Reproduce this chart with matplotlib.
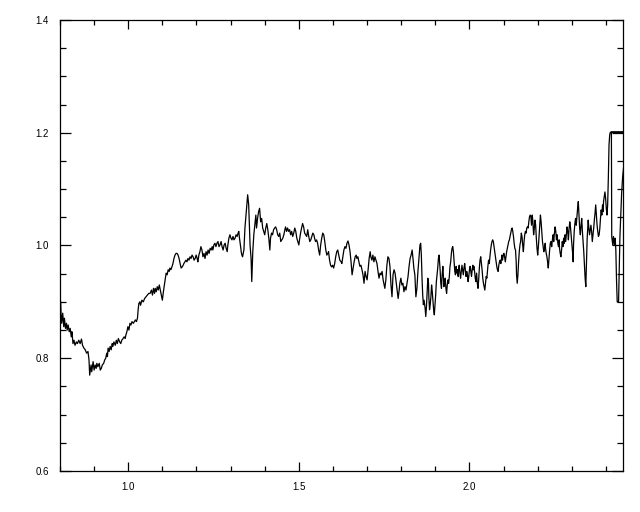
import matplotlib
matplotlib.use("Agg")
import matplotlib.pyplot as plt
from matplotlib.ticker import MultipleLocator, FormatStrFormatter

# Spectrum (wavelength, flux) in pieces
seg_a = [(0.800,0.905),(0.802,0.900),(0.803,0.880),(0.805,0.862),(0.808,0.880),(0.811,0.856),(0.813,0.871),
         (0.816,0.853),(0.819,0.862),(0.821,0.850),(0.824,0.859),(0.827,0.847),(0.830,0.853),(0.833,0.838),
         (0.835,0.847),(0.838,0.826),(0.841,0.832),(0.844,0.823),(0.848,0.829),(0.851,0.826),(0.855,0.832),
         (0.859,0.826),(0.863,0.834),(0.866,0.823),(0.870,0.818),(0.874,0.815),(0.878,0.809),(0.882,0.812),
         (0.885,0.797),(0.887,0.770),(0.889,0.779),(0.891,0.788),(0.893,0.776),(0.895,0.785),(0.897,0.794),
         (0.900,0.779),(0.903,0.788),(0.906,0.782),(0.908,0.791),(0.911,0.785),(0.915,0.791),(0.918,0.779),
         (0.921,0.782),(0.924,0.788),(0.928,0.791),(0.931,0.797),(0.934,0.800),(0.937,0.809),(0.939,0.803),
         (0.941,0.818),(0.944,0.812),(0.947,0.821),(0.950,0.815),(0.953,0.826),(0.955,0.821),(0.958,0.829),
         (0.962,0.823),(0.965,0.832),(0.968,0.826),(0.971,0.835),(0.975,0.829),(0.978,0.826),(0.981,0.832),
         (0.985,0.835),(0.988,0.838),(0.991,0.835),(0.993,0.841),(0.996,0.847),(0.999,0.856),(1.002,0.850),
         (1.005,0.862),(1.008,0.859),(1.011,0.865),(1.015,0.862),(1.018,0.865),(1.021,0.868),(1.024,0.865),
         (1.027,0.871),(1.029,0.886),(1.031,0.897),(1.034,0.900),(1.036,0.894),(1.040,0.903),(1.044,0.900),
         (1.048,0.906),(1.052,0.909),(1.056,0.912),(1.060,0.915)]

seg_b = [(1.064,0.915),(1.068,0.921),(1.071,0.912),(1.074,0.924),(1.077,0.915),(1.079,0.924),(1.082,0.918),
         (1.085,0.927),(1.088,0.921),(1.091,0.930),(1.094,0.921),(1.097,0.912),(1.100,0.903),(1.103,0.918),
         (1.106,0.930),(1.109,0.942),(1.111,0.951),(1.114,0.948),(1.117,0.957),(1.120,0.954),(1.122,0.960),
         (1.125,0.957),(1.128,0.962),(1.131,0.968),(1.134,0.977),(1.137,0.983),(1.140,0.986),(1.143,0.986),
         (1.146,0.983),(1.149,0.977),(1.152,0.968),(1.155,0.960),(1.158,0.962),(1.161,0.965),(1.163,0.968),
         (1.166,0.971),(1.169,0.974),(1.172,0.971),(1.175,0.977),(1.178,0.974),(1.181,0.980),(1.184,0.977),
         (1.187,0.983),(1.190,0.980),(1.193,0.974),(1.196,0.977),(1.199,0.983),(1.202,0.977),(1.204,0.971),
         (1.207,0.983),(1.210,0.989),(1.213,0.998),(1.216,0.992),(1.219,0.980),(1.222,0.986),(1.225,0.977),
         (1.228,0.989),(1.231,0.983),(1.234,0.992),(1.237,0.986),(1.240,0.995),(1.243,0.992),(1.246,0.998),
         (1.248,0.992),(1.251,1.001),(1.254,1.004),(1.257,0.998),(1.260,1.004),(1.263,1.007),(1.266,0.998),
         (1.269,1.001),(1.272,1.007),(1.275,0.998),(1.278,0.992),(1.281,1.001),(1.284,1.004),(1.287,0.995),
         (1.290,0.989),(1.292,1.001),(1.295,1.013),(1.298,1.019),(1.301,1.013),(1.304,1.010),(1.307,1.016),
         (1.310,1.010),(1.313,1.013),(1.316,1.019),(1.319,1.016),(1.322,1.022),(1.324,1.025),(1.326,1.013),
         (1.328,1.004),(1.330,0.995),(1.331,0.989),(1.333,0.983),(1.335,0.980),(1.337,0.986),(1.339,0.992)]

seg_c = [(1.342,1.031),(1.346,1.060),(1.350,1.090),(1.353,1.072),(1.357,1.001),(1.360,0.977),(1.362,0.936),
         (1.365,0.989),(1.368,1.019),(1.371,1.036),(1.374,1.054),(1.376,1.031),(1.379,1.048),(1.382,1.060),
         (1.385,1.066),(1.388,1.042),(1.391,1.048),(1.394,1.031),(1.397,1.025),(1.400,1.019),(1.403,1.031),
         (1.406,1.039),(1.409,1.028),(1.412,1.013),(1.415,0.992),(1.417,1.013),(1.420,1.022),(1.423,1.019),
         (1.426,1.028),(1.429,1.031),(1.432,1.033),(1.435,1.028),(1.438,1.019),(1.441,1.016),(1.444,1.022),
         (1.447,1.007),(1.450,1.010),(1.453,1.013),(1.456,1.019),(1.459,1.028),(1.461,1.033),(1.464,1.025),
         (1.467,1.031),(1.470,1.025),(1.473,1.028),(1.476,1.019),(1.479,1.025),(1.482,1.016),(1.485,1.022),
         (1.488,1.031),(1.491,1.025),(1.494,1.013),(1.497,1.007),(1.500,1.001),(1.502,1.010),(1.505,1.022),
         (1.508,1.031),(1.511,1.039),(1.514,1.033),(1.517,1.022),(1.520,1.019),(1.523,1.016),(1.526,1.028),
         (1.529,1.016),(1.532,1.007),(1.535,1.010),(1.538,1.016),(1.541,1.022),(1.544,1.019),(1.546,1.013),
         (1.549,1.007),(1.552,1.010),(1.555,1.004),(1.558,0.992),(1.561,0.983),(1.564,1.001),(1.567,1.013),
         (1.570,1.022),(1.573,1.019),(1.576,1.007),(1.579,0.992),(1.582,0.983),(1.585,0.986),(1.587,0.989),
         (1.590,0.974),(1.593,0.965),(1.596,0.962),(1.599,0.965),(1.602,0.960),(1.605,0.968),(1.608,0.980),
         (1.611,0.989),(1.614,0.992),(1.617,0.983),(1.620,0.974)]

seg_d = [(1.624,0.971),(1.626,0.968),(1.629,0.980),(1.632,0.992),(1.635,0.998),(1.638,0.995),(1.641,1.004),
         (1.644,1.008),(1.647,1.001),(1.650,0.989),(1.653,0.971),(1.656,0.948),(1.659,0.960),(1.662,0.971),
         (1.665,0.980),(1.668,0.983),(1.670,0.977),(1.673,0.980),(1.676,0.971),(1.679,0.963),(1.682,0.965),
         (1.685,0.957),(1.688,0.948),(1.691,0.933),(1.694,0.954),(1.697,0.945),(1.700,0.939),(1.703,0.957),
         (1.706,0.977),(1.709,0.989),(1.711,0.980),(1.714,0.974),(1.717,0.983),(1.720,0.971),(1.723,0.980),
         (1.726,0.974),(1.729,0.968),(1.732,0.954),(1.735,0.942),(1.738,0.951),(1.741,0.948),(1.744,0.954),
         (1.747,0.939),(1.750,0.930),(1.752,0.924),(1.755,0.939),(1.758,0.965),(1.761,0.980),(1.764,0.977),
         (1.767,0.963),(1.770,0.930),(1.773,0.909),(1.776,0.948),(1.779,0.957),(1.782,0.951),(1.785,0.936),
         (1.788,0.921),(1.791,0.906),(1.794,0.921),(1.796,0.933),(1.799,0.942),(1.802,0.930),(1.805,0.933),
         (1.808,0.918),(1.811,0.927),(1.814,0.921),(1.817,0.933),(1.820,0.945),(1.823,0.963),(1.826,0.977),
         (1.829,0.983),(1.832,0.992),(1.835,0.974),(1.837,0.960),(1.840,0.948),(1.843,0.909),(1.846,0.924),
         (1.849,0.954),(1.852,0.977),(1.855,1.001),(1.857,1.004),(1.859,0.983),(1.861,0.942),(1.863,0.912),
         (1.865,0.895),(1.867,0.903),(1.870,0.889),(1.872,0.874),(1.874,0.892),(1.876,0.918),(1.878,0.942),
         (1.880,0.933),(1.881,0.909),(1.883,0.886),(1.885,0.895),(1.887,0.909),(1.889,0.930),(1.891,0.918),
         (1.893,0.903),(1.895,0.886),(1.897,0.877),(1.899,0.895),(1.901,0.912),(1.903,0.936),(1.905,0.948),
         (1.907,0.960),(1.909,0.977),(1.911,0.983)]

seg_e = [(1.914,0.957),(1.916,0.933),(1.918,0.924),(1.920,0.948),(1.922,0.963),(1.924,0.942),(1.925,0.927),
         (1.927,0.933),(1.929,0.942),(1.931,0.924),(1.933,0.915),(1.935,0.930),(1.937,0.939),(1.939,0.933),
         (1.941,0.945),(1.943,0.963),(1.945,0.971),(1.947,0.986),(1.949,0.995),(1.951,0.998),(1.953,0.989),
         (1.955,0.971),(1.957,0.954),(1.959,0.948),(1.961,0.963),(1.963,0.951),(1.965,0.957),(1.967,0.945),
         (1.968,0.957),(1.970,0.965),(1.972,0.951),(1.974,0.942),(1.976,0.954),(1.978,0.965),(1.980,0.957),
         (1.982,0.948),(1.984,0.960),(1.986,0.968),(1.988,0.957),(1.990,0.945),(1.992,0.954),(1.994,0.948),
         (1.996,0.936),(1.998,0.945),(2.000,0.957),(2.002,0.963),(2.004,0.954),(2.006,0.945),(2.008,0.957),
         (2.010,0.965),(2.011,0.957),(2.013,0.963),(2.015,0.954),(2.017,0.942),(2.019,0.936),(2.021,0.951),
         (2.023,0.933),(2.025,0.924),(2.027,0.939),(2.029,0.960),(2.031,0.974),(2.033,0.980),(2.035,0.968),
         (2.037,0.957),(2.039,0.942),(2.041,0.933),(2.043,0.927),(2.045,0.921),(2.047,0.933),(2.049,0.945),
         (2.051,0.942),(2.053,0.957),(2.054,0.963),(2.056,0.974),(2.058,0.968),(2.060,0.980),(2.062,0.992),
         (2.064,1.001),(2.066,1.007),(2.068,1.010),(2.070,1.007),(2.072,0.998),(2.074,0.989),(2.076,0.980),
         (2.078,0.971),(2.080,0.963),(2.082,0.957),(2.084,0.954),(2.086,0.965),(2.088,0.971),(2.090,0.974),
         (2.092,0.968),(2.094,0.977),(2.095,0.983),(2.097,0.974),(2.099,0.983),(2.101,0.986),(2.103,0.980),
         (2.105,0.971),(2.107,0.980),(2.109,0.989),(2.111,0.995),(2.113,1.001),(2.115,1.007),(2.117,1.010),
         (2.119,1.016),(2.121,1.022),(2.123,1.028),(2.125,1.031),(2.127,1.025),(2.129,1.016),(2.131,1.004),
         (2.133,0.995),(2.135,0.992),(2.137,0.971),(2.138,0.948),(2.140,0.933),(2.142,0.948),(2.144,0.971),
         (2.146,0.989),(2.148,1.001),(2.150,1.007),(2.152,1.022),(2.154,1.016),(2.156,1.001),(2.158,0.989),
         (2.160,1.007),(2.162,1.019),(2.164,1.025),(2.166,1.022),(2.168,1.031),(2.170,1.033),(2.172,1.031),
         (2.174,1.042),(2.176,1.051),(2.178,1.054)]

seg_f = [(2.180,1.051),(2.182,1.036),(2.184,1.054),(2.186,1.042),(2.188,1.019),(2.190,1.030),(2.192,1.045),
         (2.194,1.036),(2.196,1.013),(2.198,0.995),(2.200,0.983),(2.202,0.998),(2.204,1.016),(2.206,1.036),
         (2.208,1.054),(2.210,1.042),(2.212,1.025),(2.214,1.007),(2.216,0.998),(2.218,0.989),(2.220,0.995),
         (2.222,1.004),(2.223,0.995),(2.225,0.986),(2.227,0.980),(2.229,0.971),(2.231,0.960),(2.233,0.977),
         (2.235,0.992),(2.237,1.004),(2.239,1.007),(2.241,0.998),(2.243,1.010),(2.245,1.019),(2.247,1.007),
         (2.249,1.022),(2.251,1.033),(2.253,1.025),(2.255,1.010),(2.257,1.019),(2.259,1.004),(2.261,0.998),
         (2.263,1.010),(2.264,0.995),(2.266,0.986),(2.268,0.980),(2.270,0.992),(2.272,1.007),(2.274,0.998),
         (2.276,1.013),(2.278,1.004),(2.280,1.019),(2.282,1.007),(2.284,1.019),(2.286,1.033),(2.288,1.025),
         (2.290,1.010),(2.292,1.030),(2.294,1.042),(2.296,1.033),(2.298,1.019),(2.300,1.004),(2.302,0.989),
         (2.304,0.971),(2.305,1.001),(2.307,1.025),(2.309,1.039),(2.311,1.048),(2.313,1.036),(2.315,1.051),
         (2.317,1.066),(2.319,1.078),(2.321,1.054),(2.323,1.030),(2.325,1.019),(2.327,1.036),(2.329,1.048),
         (2.331,1.025),(2.333,1.007),(2.335,0.989),(2.337,0.965),(2.339,0.942),(2.341,0.927),(2.343,0.971),
         (2.345,1.013),(2.347,1.036),(2.348,1.045),(2.350,1.030),(2.352,1.019),(2.354,1.027),(2.356,1.036),
         (2.358,1.025),(2.360,1.007),(2.362,1.019),(2.364,1.030),(2.366,1.045),(2.368,1.057),(2.370,1.072),
         (2.372,1.054),(2.374,1.036),(2.376,1.025),(2.378,1.016),(2.380,1.019),(2.382,1.030),(2.384,1.048),
         (2.386,1.063),(2.388,1.054),(2.390,1.072),(2.392,1.060),(2.393,1.078),(2.395,1.087),(2.397,1.095),
         (2.399,1.084),(2.401,1.066),(2.403,1.054),(2.405,1.072),(2.407,1.119),(2.409,1.178),(2.411,1.196),
         (2.413,1.201),(2.470,1.201)]

seg_g = [(2.416,1.201),(2.417,1.016),(2.420,1.001),(2.422,1.016),(2.425,1.001),(2.427,1.013),(2.429,0.992),
         (2.431,0.939),(2.433,0.900),(2.437,0.900),(2.439,0.957),(2.441,1.016),(2.443,1.045),(2.446,1.093),
         (2.449,1.122),(2.452,1.140)]

x_limits = (0.8, 2.45)
y_limits = (0.6, 1.4)

segments = [seg_a, seg_b, seg_c, seg_d, seg_e, seg_f, seg_g]
wl = [p[0] for s in segments for p in s]
fl = [p[1] for s in segments for p in s]

plt.rcParams['font.family'] = ['Liberation Sans', 'DejaVu Sans']
fig = plt.figure(figsize=(6.4, 5.12), dpi=100)
ax = fig.add_axes([60/640, 41/512, 563/640, 451/512])
ax.plot(wl, fl, color='black', lw=0.9)
ax.set_xlim(*x_limits)
ax.set_ylim(*y_limits)

ax.xaxis.set_major_locator(MultipleLocator(0.5))
ax.xaxis.set_minor_locator(MultipleLocator(0.1))
ax.yaxis.set_major_locator(MultipleLocator(0.2))
ax.yaxis.set_minor_locator(MultipleLocator(0.05))
ax.xaxis.set_major_formatter(FormatStrFormatter('%.1f'))
ax.yaxis.set_major_formatter(FormatStrFormatter('%.1f'))

ax.tick_params(axis='x', which='major', direction='in', length=6.5, width=0.9,
               top=True, bottom=True, labelsize=7, pad=8)
ax.tick_params(axis='x', which='minor', direction='in', length=3.3, width=0.9, top=True, bottom=True)
ax.tick_params(axis='y', which='major', direction='in', length=8.1, width=0.9,
               left=True, right=True, labelsize=7, pad=8)
ax.tick_params(axis='y', which='minor', direction='in', length=4.0, width=0.9, left=True, right=True)
for sp in ax.spines.values():
    sp.set_linewidth(0.9)

fig.savefig('out.png', dpi=100, facecolor='white')
